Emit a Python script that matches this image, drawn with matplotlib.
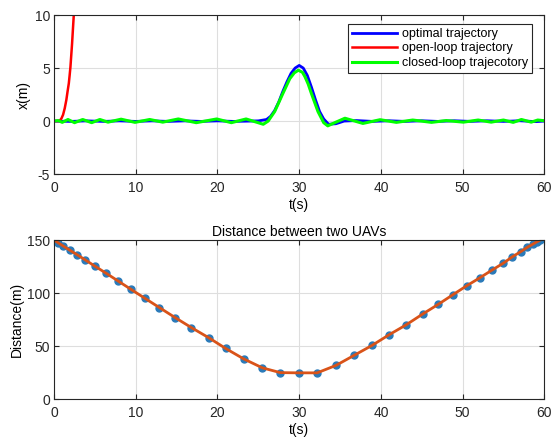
import numpy as np
import matplotlib.pyplot as plt

plt.rcParams['font.family'] = ['Liberation Sans', 'DejaVu Sans']
plt.rcParams['axes.unicode_minus'] = False

# --- top panel: lateral position x(m) ---
t_opt = [0, 2, 4, 6, 8, 10, 12, 14, 16, 18, 20, 22, 24, 25, 26, 26.5, 27, 27.5,
         28, 28.5, 29, 29.5, 30, 30.5, 31, 31.5, 32, 32.5, 33, 33.6, 34.5, 35.5,
         37, 39, 41, 43, 45, 47, 49, 51, 53, 55, 57, 59, 60]
x_opt = [0, -0.03, 0.02, -0.03, 0.02, -0.03, 0.02, -0.03, 0.02, -0.03, 0.02,
         -0.03, 0.0, 0.02, 0.15, 0.45, 1.0, 1.8, 2.8, 3.7, 4.5, 5.0, 5.25, 5.0,
         4.3, 3.2, 2.0, 0.9, 0.2, -0.3, -0.25, 0.0, 0.05, -0.03, 0.03, -0.03,
         0.03, -0.03, 0.03, -0.03, 0.03, -0.03, 0.03, -0.05, 0.0]

t_open = [0, 0.5, 0.7, 0.9, 1.1, 1.3, 1.5, 1.65, 1.8, 1.9, 2.0, 2.1, 2.2, 2.3,
          2.41, 2.5]
x_open = [0, 0, 0.05, 0.25, 0.6, 1.2, 2.0, 2.8, 3.55, 4.3, 5.1, 6.2, 7.3, 8.6,
          10.0, 11.2]

t_closed = [0, 0.5, 1.0, 1.7, 2.5, 3.5, 4.6, 5.6, 6.6, 8.2, 9.9, 11.7, 13.3,
            15.2, 17.4, 19.9, 21.7, 23.5, 25.6, 26.2, 27.0, 28.0, 28.85, 29.4,
            29.9, 30.4, 30.7, 31.1, 31.5, 32.3, 33.0, 33.5, 34.5, 35.6, 37.8,
            39.9, 41.9, 43.9, 46.2, 48.0, 50.1, 51.9, 53.5, 55.0, 56.2, 57.2,
            58.4, 59.2, 59.8]
x_closed = [0, 0.05, -0.12, 0.15, -0.15, 0.15, -0.15, 0.15, -0.1, 0.18, -0.12,
            0.15, -0.1, 0.2, -0.15, 0.2, -0.15, 0.2, -0.3, 0.0, 0.9, 2.6, 4.0,
            4.55, 4.8, 4.6, 4.2, 3.5, 2.6, 0.9, -0.15, -0.45, -0.1, 0.27, -0.22,
            0.13, -0.12, 0.1, -0.12, 0.05, -0.1, 0.1, -0.1, 0.1, -0.12, 0.15,
            -0.1, 0.1, 0.05]

# --- bottom panel: distance between the two UAVs ---
t_node = [0, 0.5, 1.1, 1.9, 2.8, 3.8, 5.0, 6.4, 7.8, 9.4, 11.1, 12.9, 14.8,
          16.8, 19.0, 21.0, 23.2, 25.5, 27.7, 30.0, 32.2, 34.5, 36.7, 38.9,
          41.0, 43.1, 45.1, 47.0, 48.8, 50.5, 52.1, 53.6, 55.0, 56.1, 57.1,
          57.9, 58.6, 59.1, 59.5]
d_node = [150, 147.5, 144.5, 140.6, 136.3, 131.4, 125.4, 118.6, 111.6, 103.6,
          95.2, 86.3, 77.0, 67.5, 57.6, 47.8, 38.0, 29.5, 25.0, 24.8, 24.8,
          31.8, 41.2, 50.6, 60.7, 70.1, 80.2, 89.3, 98.4, 106.9, 114.4, 121.7,
          128.3, 134.3, 139.0, 143.1, 146.2, 148.4, 150.0]

fig = plt.figure(figsize=(5.52, 4.43), dpi=100)
ax1 = fig.add_axes([0.098, 0.607, 0.888, 0.359])
ax2 = fig.add_axes([0.098, 0.099, 0.888, 0.359])

fs = 10
spine_c = '#262626'

ax1.plot(t_opt, x_opt, color='#0000ff', lw=2.0, label='optimal trajectory')
ax1.plot(t_open, x_open, color='#ff0000', lw=1.8, label='open-loop trajectory')
ax1.plot(t_closed, x_closed, color='#00ff00', lw=2.2,
         label='closed-loop trajecotory')
ax1.set_xlim(0, 60)
ax1.set_ylim(-5, 10)
ax1.set_yticks([-5, 0, 5, 10])
ax1.set_xlabel('t(s)', fontsize=fs, labelpad=2)
ax1.set_ylabel('x(m)', fontsize=fs, labelpad=3)
leg = ax1.legend(loc='upper right', bbox_to_anchor=(0.975, 0.943),
                 fontsize=9, handlelength=3.6, borderaxespad=0,
                 labelspacing=0.2, handletextpad=0.4, borderpad=0.3,
                 fancybox=False, framealpha=1)
leg.get_frame().set_edgecolor(spine_c)
leg.get_frame().set_linewidth(0.8)

ax2.plot(t_node, d_node, 'o', color='#2a7ab9', ms=5, mec='#2a7ab9')
ax2.plot(t_node, d_node, '-', color='#d95319', lw=2.0)
ax2.set_xlim(0, 60)
ax2.set_ylim(0, 150)
ax2.set_yticks([0, 50, 100, 150])
ax2.set_xlabel('t(s)', fontsize=fs, labelpad=2)
ax2.set_ylabel('Distance(m)', fontsize=fs, labelpad=2)
ax2.set_title('Distance between two UAVs', fontsize=fs, pad=3)

for ax in (ax1, ax2):
    ax.grid(True, color='#dedede', lw=0.8)
    ax.set_axisbelow(True)
    ax.tick_params(direction='in', top=True, right=True, labelsize=fs,
                   colors=spine_c, length=3.5, width=0.8)
    ax.tick_params(axis='x', pad=5)
    ax.tick_params(axis='y', pad=3)
    for s in ax.spines.values():
        s.set_color(spine_c)
        s.set_linewidth(0.8)

fig.savefig('out.png', dpi=100)
